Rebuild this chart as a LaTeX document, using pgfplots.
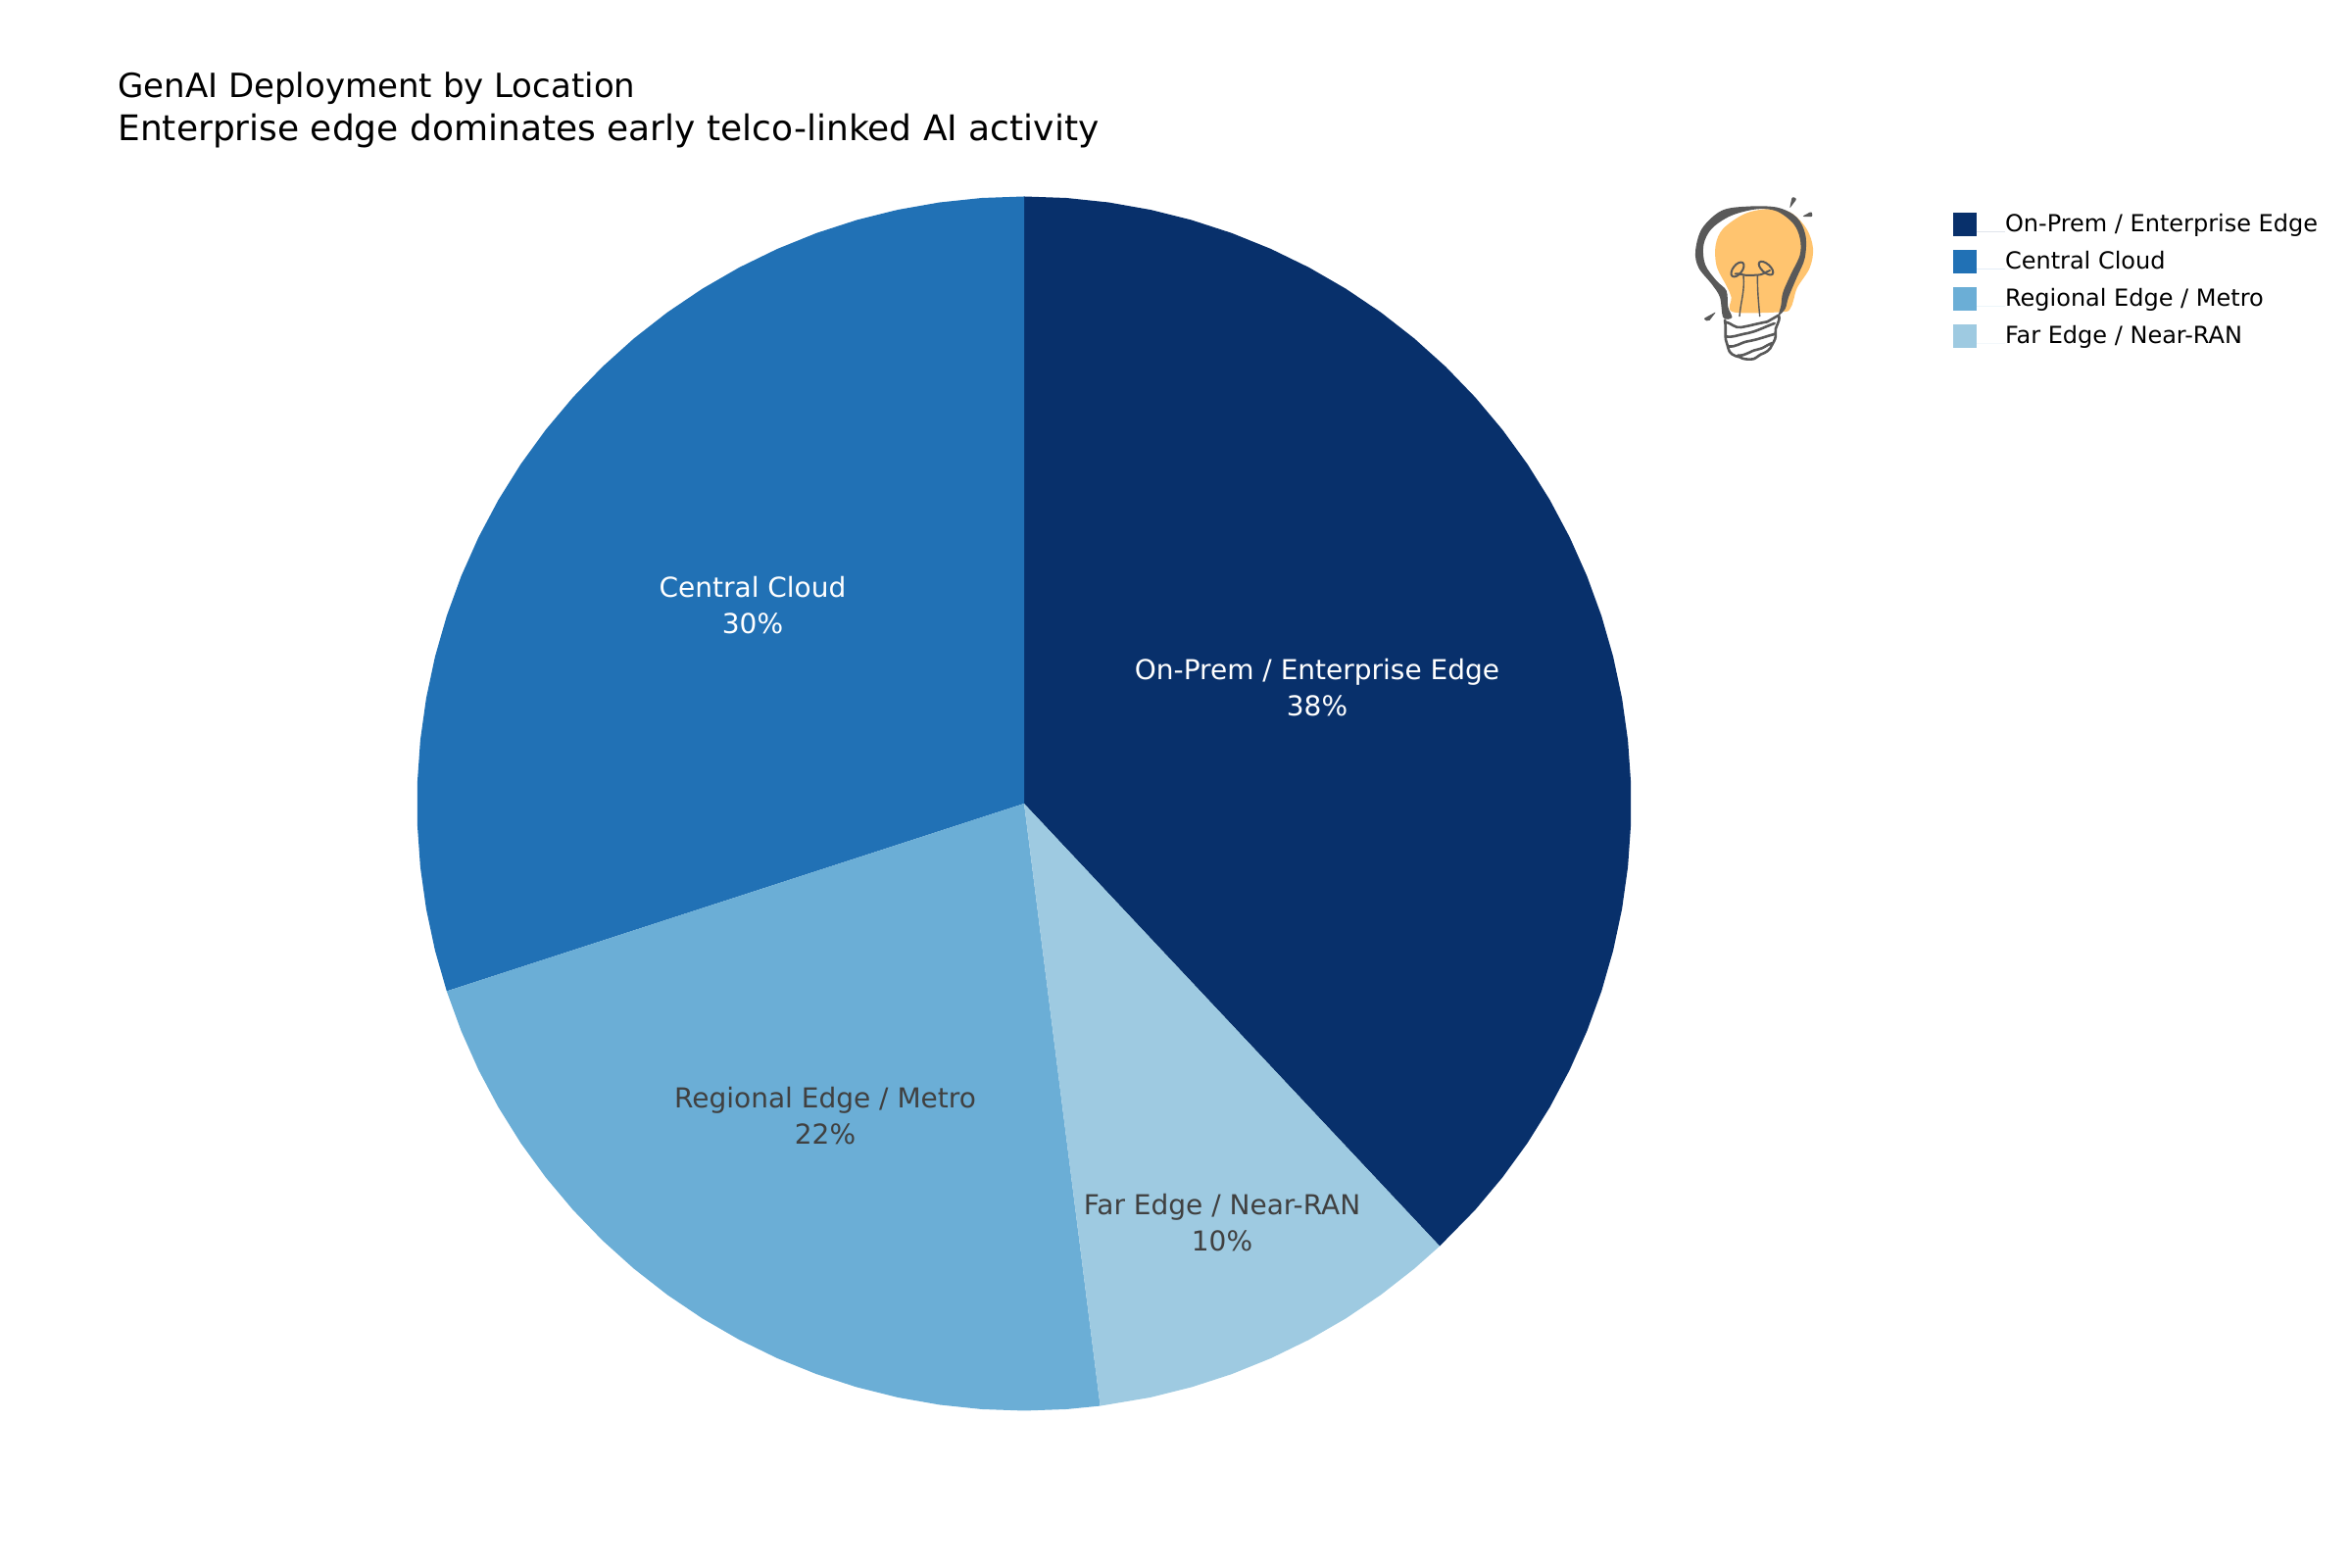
\documentclass[border=0pt]{standalone}
\usepackage{fontspec}
\setmainfont{DejaVu Sans}
\usepackage{pgfplots}
\pgfplotsset{compat=1.18}
\definecolor{cA}{HTML}{08306B}
\definecolor{cB}{HTML}{2171B5}
\definecolor{cC}{HTML}{6BAED6}
\definecolor{cD}{HTML}{9ECAE1}
\definecolor{bulbO}{HTML}{FFC46F}
\definecolor{bulbD}{HTML}{595959}
\definecolor{lab}{HTML}{404040}
\begin{document}
\begin{tikzpicture}
\useasboundingbox (0,0) rectangle (1200pt,800pt);
\begin{axis}[
  at={(0,0)},anchor=south west,
  scale only axis,width=1200pt,height=800pt,
  xmin=-1045,xmax=1355,ymin=-780,ymax=820,
  hide axis,clip=false,
  title={{\fontsize{17}{22}\selectfont GenAI Deployment by Location}\\Enterprise edge dominates early telco-linked AI activity},
  title style={at={(axis cs:-925,735)},anchor=north west,align=left,inner sep=0pt,
    font={\fontsize{18}{22}\selectfont}},
  legend style={at={(axis cs:948,603)},anchor=north west,draw=none,fill=none,inner sep=0pt,outer sep=0pt,
    font={\fontsize{12}{14}\selectfont},row sep=6.3pt,
    nodes={inner sep=0pt,anchor=base west,text height=9pt,text depth=3pt},
    /tikz/every even column/.style={column sep=0pt}},
  legend cell align=left,
  legend image code/.code={\fill[#1] (0pt,-2.3pt) rectangle (12pt,9.7pt);\path (0pt,0pt) rectangle (26.5pt,0pt);},
]
\addplot[draw=none,fill=cA,data cs=polar] coordinates {(0,0)(90,619.5)(86,619.5)(82,619.5)(78,619.5)(74,619.5)(70,619.5)(66,619.5)(62,619.5)(58,619.5)(54,619.5)(50,619.5)(46,619.5)(42,619.5)(38,619.5)(34,619.5)(30,619.5)(26,619.5)(22,619.5)(18,619.5)(14,619.5)(10,619.5)(6,619.5)(2,619.5)(-2,619.5)(-6,619.5)(-10,619.5)(-14,619.5)(-18,619.5)(-22,619.5)(-26,619.5)(-30,619.5)(-34,619.5)(-38,619.5)(-42,619.5)(-46.8,619.5)(0,0)};
\addlegendentry{On-Prem / Enterprise Edge}
\addplot[draw=none,fill=cB,data cs=polar] coordinates {(0,0)(198,619.5)(194,619.5)(190,619.5)(186,619.5)(182,619.5)(178,619.5)(174,619.5)(170,619.5)(166,619.5)(162,619.5)(158,619.5)(154,619.5)(150,619.5)(146,619.5)(142,619.5)(138,619.5)(134,619.5)(130,619.5)(126,619.5)(122,619.5)(118,619.5)(114,619.5)(110,619.5)(106,619.5)(102,619.5)(98,619.5)(94,619.5)(90,619.5)(0,0)};
\addlegendentry{Central Cloud}
\addplot[draw=none,fill=cC,data cs=polar] coordinates {(0,0)(277.2,619.5)(274,619.5)(270,619.5)(266,619.5)(262,619.5)(258,619.5)(254,619.5)(250,619.5)(246,619.5)(242,619.5)(238,619.5)(234,619.5)(230,619.5)(226,619.5)(222,619.5)(218,619.5)(214,619.5)(210,619.5)(206,619.5)(202,619.5)(198,619.5)(0,0)};
\addlegendentry{Regional Edge / Metro}
\addplot[draw=none,fill=cD,data cs=polar] coordinates {(0,0)(313.2,619.5)(310,619.5)(306,619.5)(302,619.5)(298,619.5)(294,619.5)(290,619.5)(286,619.5)(282,619.5)(277.2,619.5)(0,0)};
\addlegendentry{Far Edge / Near-RAN}
\node[white,align=center,font={\fontsize{14}{18.5}\selectfont}] at (axis cs:299,118) {On-Prem / Enterprise Edge\\38\%};
\node[white,align=center,font={\fontsize{14}{18.5}\selectfont}] at (axis cs:-277,202) {Central Cloud\\30\%};
\node[lab,align=center,font={\fontsize{14}{18.5}\selectfont}] at (axis cs:-203,-318.5) {Regional Edge / Metro\\22\%};
\node[lab,align=center,font={\fontsize{14}{18.5}\selectfont}] at (axis cs:202,-428) {Far Edge / Near-RAN\\10\%};
\end{axis}
\begin{scope}[shift={(840pt,710pt)},x=0.16667pt,y=-0.16667pt]
\fill[bulbO] plot[smooth cycle,tension=.55] coordinates {(265,415)(260,370)(245,335)(215,275)(212,210)(235,160)(300,115)(370,100)(440,110)(490,160)(510,220)(500,280)(462,340)(450,380)(440,405)(415,415)};
\fill[bulbD] plot[smooth cycle,tension=.55] coordinates {(235,432)(225,370)(200,330)(160,280)(150,230)(170,160)(230,105)(310,92)(400,95)(460,125)(487,180)(485,250)(460,310)(435,370)(425,405)(405,425)(412,395)(418,355)(442,300)(470,240)(470,190)(450,145)(400,107)(340,100)(260,120)(200,160)(175,210)(180,270)(215,320)(245,350)(250,400)(262,432)};
\draw[bulbD,line width=0.7pt,line cap=round,line join=round]
  (285,428) to[out=85,in=-85] (297,305)
  (347,428) to[out=95,in=-90] (340,305);
\draw[bulbD,line width=1pt,line cap=round,line join=round]
  (272,298) to[out=5,in=180] (310,303) to (340,302) to[out=0,in=200] (378,288);
\draw[bulbD,line width=1pt] (279,285) ellipse[x radius=26,y radius=14,rotate=52];
\draw[bulbD,line width=1pt] (366,281) ellipse[x radius=27,y radius=13,rotate=-42];
\draw[bulbD,line width=1.3pt,line cap=round,line join=round]
  (240,440) to[out=-80,in=90] (242,490) to[out=-90,in=100] (250,525) to[out=-80,in=170] (285,553) to[out=-30,in=180] (320,560) to[out=0,in=-150] (350,545) to[out=20,in=-110] (385,515) to[out=60,in=-80] (395,480) to[out=100,in=-70] (405,425)
  (240,445) to[out=-10,in=190] (290,462) to[out=10,in=190] (370,445) to (405,425)
  (243,490) to[out=-10,in=190] (300,482) to[out=10,in=200] (392,450)
  (250,520) to[out=-10,in=190] (310,505) to[out=10,in=195] (395,482)
  (280,548) to[out=-5,in=190] (340,530) to[out=10,in=200] (385,510);
\fill[bulbD,rounded corners=1pt] (438,99) -- (446,62) -- (461,68) -- cycle;
\fill[bulbD,rounded corners=1pt] (476,123) -- (506,107) -- (509,124) -- cycle;
\fill[bulbD,rounded corners=1pt] (174,436) -- (214,414) -- (190,445) -- cycle;
\end{scope}
\end{tikzpicture}
\end{document}
